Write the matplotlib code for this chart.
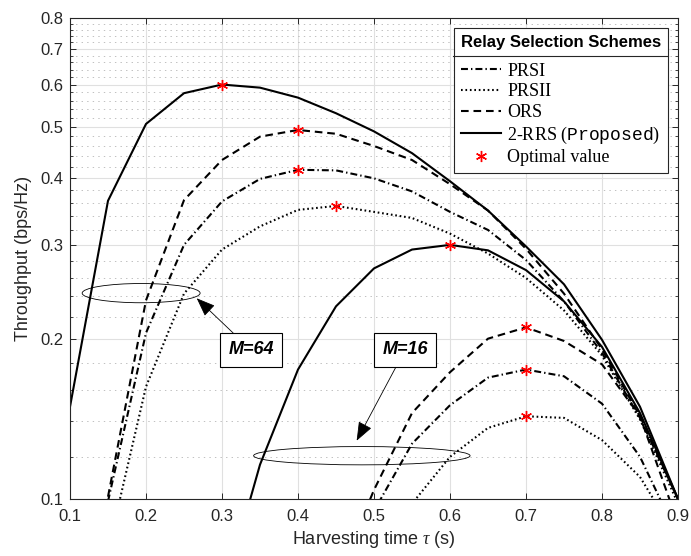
"""Throughput vs. harvesting time for the relay selection schemes."""

import matplotlib

matplotlib.use("Agg")

import matplotlib.pyplot as plt
import numpy as np
from matplotlib.lines import Line2D
from matplotlib.patches import Ellipse
from matplotlib.ticker import FixedFormatter, FixedLocator, NullFormatter

nan = np.nan

tau = np.round(np.arange(0.10, 0.91, 0.05), 2)

# M = 64
prsi_64 = [nan, 0.099, 0.205, 0.300, 0.362, 0.399, 0.415, 0.414, 0.400, 0.378,
           0.346, 0.320, 0.281, 0.235, 0.188, 0.142, 0.100]
prsii_64 = [nan, 0.080, 0.1625, 0.243, 0.294, 0.325, 0.349, 0.355, 0.346, 0.337,
            0.315, 0.289, 0.260, 0.226, 0.186, 0.141, 0.098]
ors_64 = [nan, 0.101, 0.236, 0.364, 0.433, 0.479, 0.493, 0.485, 0.460, 0.433,
          0.390, 0.348, 0.295, 0.243, 0.191, 0.143, 0.100]
rrs_64 = [0.149, 0.363, 0.506, 0.578, 0.600, 0.592, 0.567, 0.530, 0.490, 0.446,
          0.395, 0.348, 0.298, 0.253, 0.199, 0.149, 0.100]

# M = 16
prsi_16 = [nan] * 7 + [0.060, 0.095, 0.127, 0.150, 0.169, 0.175, 0.170, 0.151, 0.120, 0.085]
prsii_16 = [nan] * 8 + [0.070, 0.098, 0.120, 0.136, 0.143, 0.142, 0.129, 0.110, 0.084]
ors_16 = [nan] * 7 + [0.070, 0.104, 0.145, 0.173, 0.200, 0.210, 0.198, 0.179, 0.143, 0.090]
rrs_16 = [nan] * 4 + [0.065, 0.116, 0.175, 0.230, 0.271, 0.294, 0.300, 0.293, 0.269,
                      0.235, 0.193, 0.145, 0.100]

schemes = ["PRSI", "PRSII", "ORS", "2-RRS"]
legend_labels = ["PRSI", "PRSII", "ORS", r"2-RRS ($\mathtt{Proposed}$)", "Optimal value"]
curves = {
    "PRSI": [prsi_64, prsi_16],
    "PRSII": [prsii_64, prsii_16],
    "ORS": [ors_64, ors_16],
    "2-RRS": [rrs_64, rrs_16],
}
y_ticks = [0.1, 0.2, 0.3, 0.4, 0.5, 0.6, 0.7, 0.8]
x_ticks = [0.1, 0.2, 0.3, 0.4, 0.5, 0.6, 0.7, 0.8, 0.9]

STYLES = {
    "PRSI": (0, (5.0, 2.2, 1.0, 2.2)),
    "PRSII": (0, (1.2, 2.0)),
    "ORS": (0, (5.5, 3.5)),
    "2-RRS": "-",
}
INK = "#262626"

plt.rcParams["font.family"] = ["Liberation Sans", "DejaVu Sans"]
plt.rcParams["mathtext.fontset"] = "custom"
plt.rcParams["mathtext.rm"] = "Liberation Serif"
plt.rcParams["mathtext.it"] = "Liberation Serif:italic"
plt.rcParams["mathtext.tt"] = "Liberation Mono"
plt.rcParams["lines.scale_dashes"] = False


def main():
    fig = plt.figure(figsize=(6.91, 5.56), dpi=100)
    ax = fig.add_axes([70 / 691, 57 / 556, 608 / 691, 481 / 556])

    for name in schemes:
        for vals in curves[name]:
            y = np.asarray(vals, dtype=float)
            ax.plot(tau, y, color="black", lw=1.5, linestyle=STYLES[name])
            k = np.nanargmax(y)
            ax.plot(tau[k], y[k], linestyle="none", marker=(6, 2, 0), ms=8,
                    mew=1.0, color="red", zorder=5)

    ax.set_yscale("log")
    ax.set_xlim(0.1, 0.9)
    ax.set_ylim(0.1, 0.8)
    ax.xaxis.set_major_locator(FixedLocator(x_ticks))
    ax.xaxis.set_major_formatter(FixedFormatter([f"{v:g}" for v in x_ticks]))
    ax.xaxis.set_minor_locator(FixedLocator([]))
    ax.yaxis.set_major_locator(FixedLocator(y_ticks))
    ax.yaxis.set_major_formatter(FixedFormatter([f"{v:g}" for v in y_ticks]))
    minor = [v / 100 for v in range(12, 80, 2) if v % 10]
    ax.yaxis.set_minor_locator(FixedLocator(minor))
    ax.yaxis.set_minor_formatter(NullFormatter())

    ax.set_axisbelow(True)
    ax.grid(which="major", color="#e0e0e0", lw=0.8)
    ax.grid(which="minor", axis="y", color="#b5b5b5", lw=0.6, linestyle=(0, (1, 3)))
    ax.tick_params(which="both", direction="in", top=True, right=True,
                   color=INK, labelcolor=INK, labelsize=12)
    ax.tick_params(which="major", length=4.5, width=0.7)
    ax.tick_params(which="minor", length=2.5, width=0.6)
    ax.tick_params(axis="x", pad=7)
    ax.tick_params(axis="y", pad=5)
    for sp in ax.spines.values():
        sp.set_color(INK)
        sp.set_linewidth(0.8)

    ax.set_xlabel(r"Harvesting time $\tau$ (s)", fontsize=13, color=INK, labelpad=4)
    ax.set_ylabel("Throughput (bps/Hz)", fontsize=13, color=INK, labelpad=6)

    # group markers for the two antenna counts
    ax.add_patch(Ellipse((0.117, 0.428), 0.194, 0.040, transform=ax.transAxes,
                         fill=False, ec="black", lw=0.6))
    ax.add_patch(Ellipse((0.480, 0.090), 0.356, 0.038, transform=ax.transAxes,
                         fill=False, ec="black", lw=0.6))
    box = dict(boxstyle="square,pad=0.45", fc="white", ec="black", lw=0.8)
    arrow = dict(arrowstyle="-|>,head_length=0.9,head_width=0.35", color="black",
                 lw=0.6, shrinkA=0, shrinkB=0)
    for txt, tip, pos in [("M=64", (0.2084, 0.4173), (0.2977, 0.3098)),
                          ("M=16", (0.4715, 0.1212), (0.551, 0.3098))]:
        ax.annotate(txt, xy=tip, xycoords="axes fraction", xytext=pos,
                    textcoords="axes fraction", ha="center", va="center",
                    fontsize=13, fontweight="bold", fontstyle="italic",
                    bbox=box, arrowprops=arrow)

    handles = [Line2D([], [], color="black", lw=1.5, linestyle=STYLES[n]) for n in schemes]
    handles.append(Line2D([], [], linestyle="none", marker=(6, 2, 0), ms=8,
                          mew=1.0, color="red"))
    leg = ax.legend(handles, legend_labels, title="Relay Selection Schemes",
                    loc="upper right", borderaxespad=0.55, fancybox=False,
                    edgecolor=INK, framealpha=1,
                    prop={"family": "Liberation Serif", "size": 13},
                    title_fontproperties={"family": "Liberation Sans",
                                          "weight": "bold", "size": 12},
                    handlelength=2.2, handletextpad=0.35, labelspacing=0.2,
                    borderpad=0.4)
    leg.get_frame().set_linewidth(0.8)
    title_gap = 9  # points between title and first entry
    leg._legend_box.sep = title_gap

    # rule under the legend title
    fig.canvas.draw()
    frame = leg.get_frame().get_window_extent()
    title = leg.get_title().get_window_extent()
    y_rule = title.y0 - title_gap * fig.dpi / 72 / 2
    inv = fig.transFigure.inverted()
    (x0, y0), (x1, _) = inv.transform([(frame.x0, y_rule), (frame.x1, y_rule)])
    fig.add_artist(Line2D([x0, x1], [y0, y0], transform=fig.transFigure,
                          color=INK, lw=0.8, zorder=10))

    fig.savefig("out.png", dpi=100)
    plt.close(fig)


if __name__ == "__main__":
    main()
